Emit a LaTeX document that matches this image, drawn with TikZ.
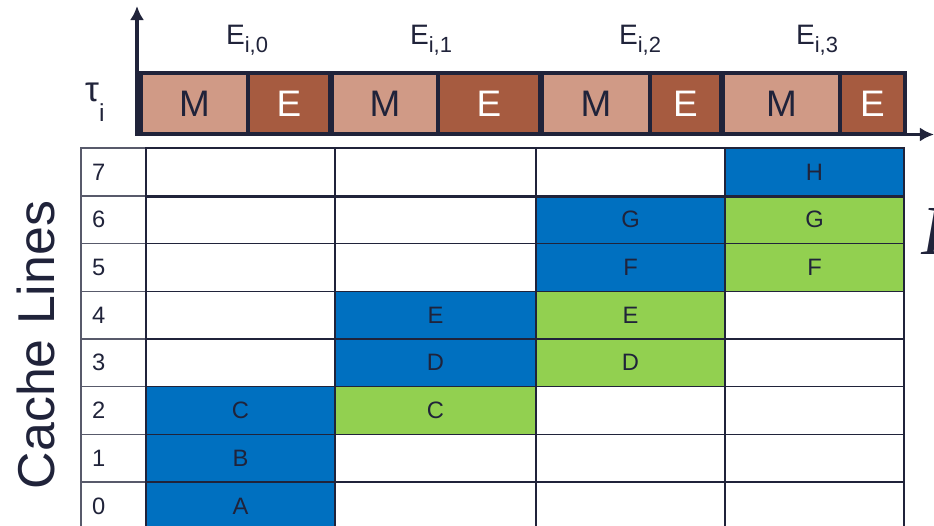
\documentclass[tikz,border=0pt]{standalone}
\usepackage{fontspec}
\setmainfont{Liberation Sans}
\newfontfamily\serifit{Liberation Serif}
\usetikzlibrary{arrows.meta}
\definecolor{navy}{RGB}{32,35,58}
\definecolor{cblue}{RGB}{0,112,192}
\definecolor{cgreen}{RGB}{146,208,80}
\definecolor{salmon}{RGB}{208,154,134}
\definecolor{brick}{RGB}{166,91,64}

\begin{document}
\begin{tikzpicture}[x=0.02cm,y=-0.02cm,
  axis/.style={navy,line width=2pt,{Latex[length=8pt,width=8pt]}-{Latex[length=8pt,width=8pt]}},
  mphase/.style={rectangle,draw=navy,line width=2pt,fill=salmon,text=navy,
                 minimum height=1.22cm,inner sep=0pt,font=\fontsize{21}{21}\selectfont},
  ephase/.style={mphase,fill=brick,text=white},
  cell/.style={rectangle,draw=navy,line width=0.8pt,minimum height=0.954cm,
               inner sep=0pt,text=navy,font=\fontsize{13.5}{13.5}\selectfont},
  idx/.style={cell,draw=navy!75,text width=0.86cm,inner xsep=0.22cm,align=left}]
  \useasboundingbox (0,0) rectangle (934,526);

  % time axis of the task
  \coordinate (ytop) at (137,6);
  \coordinate (xend) at (934,134.5);
  \draw[axis] (ytop) |- (xend);

  % memory and execution phases of the four jobs
  \foreach \k/\xa/\xb/\xc/\lx in {0/141/248/330/247,1/332/438/540/431,
                                  2/542/650/721/640,3/723/840/905/817} {
    \node[mphase,minimum width={(\xb-\xa)*0.02cm}] (m\k) at ({(\xa+\xb)/2},103.5) {M};
    \node[ephase,minimum width={(\xc-\xb)*0.02cm}] (e\k) at ({(\xb+\xc)/2},103.5) {E};
    \node[anchor=base,text=navy,font=\fontsize{16}{16}\selectfont] (lbl\k) at (\lx,45)
      {E\raisebox{-4.5pt}{\fontsize{12.5}{12.5}\selectfont i,\k}};
  }
  \node[anchor=base west,text=navy,font=\fontsize{20}{20}\selectfont] (taulbl) at (79,102)
    {τ\raisebox{-11pt}{\fontsize{14}{14}\selectfont i}};

  % cache contents per job
  \foreach \r/\fa/\ta/\fb/\tb/\fc/\tc/\fd/\td in {
      7/white/{}/white/{}/white/{}/cblue/H,
      6/white/{}/white/{}/cblue/G/cgreen/G,
      5/white/{}/white/{}/cblue/F/cgreen/F,
      4/white/{}/cblue/E/cgreen/E/white/{},
      3/white/{}/cblue/D/cgreen/D/white/{},
      2/cblue/C/cgreen/C/white/{}/white/{},
      1/cblue/B/white/{}/white/{}/white/{},
      0/cblue/A/white/{}/white/{}/white/{}} {
    \node[idx] (n\r) at (113.5,{172+(7-\r)*47.7}) {\r};
    \node[cell,fill=\fa,minimum width=3.78cm] (a\r) at (240.5,{172+(7-\r)*47.7}) {\ta};
    \node[cell,fill=\fb,minimum width=4.02cm] (b\r) at (435.5,{172+(7-\r)*47.7}) {\tb};
    \node[cell,fill=\fc,minimum width=3.78cm] (c\r) at (630.5,{172+(7-\r)*47.7}) {\tc};
    \node[cell,fill=\fd,minimum width=3.58cm] (d\r) at (814.5,{172+(7-\r)*47.7}) {\td};
  }
  \draw[navy,line width=2pt] (a7.south west) -- (d7.south east);

  \node[rotate=90,text=navy,font=\fontsize{29.5}{29.5}\selectfont] (cachelbl) at (36,345) {Cache Lines};
  \node[anchor=base west,inner sep=0pt,text=navy,font=\serifit\itshape\fontsize{40}{40}\selectfont] (cutlbl) at (921,255) {I};
\end{tikzpicture}
\end{document}
